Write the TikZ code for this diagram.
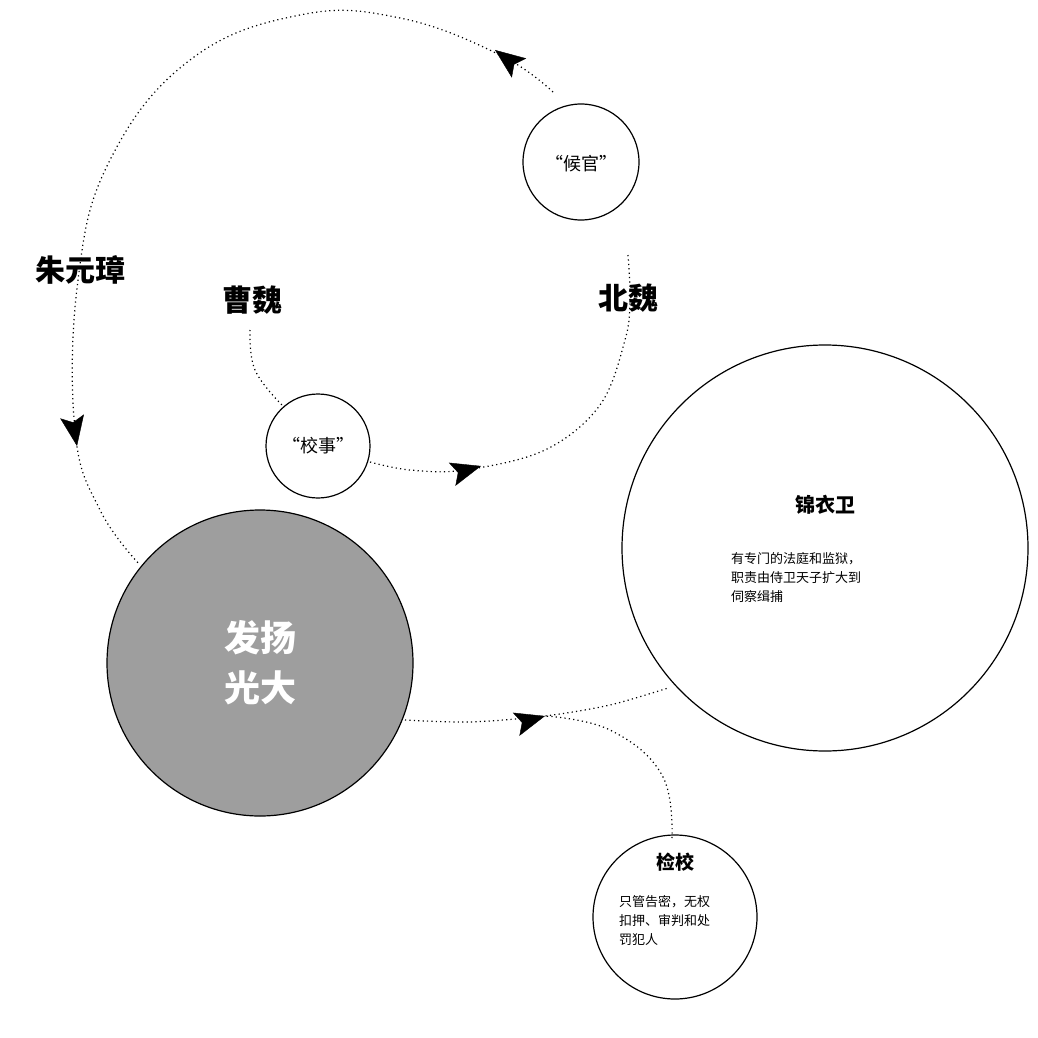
\documentclass[tikz,border=0pt]{standalone}
\usepackage{fontspec}
\newfontfamily\cjk{Noto Sans CJK SC}
\usetikzlibrary{arrows.meta}
\begin{document}
\begin{tikzpicture}[x=0.5pt,y=-0.5pt,
  circ/.style={draw,circle,line width=0.6pt,inner sep=0pt},
  conn/.style={line width=0.6pt,dash pattern=on 0.6pt off 1.6pt},
  tipa/.style={-{Stealth[length=15pt,width=12pt,inset=3pt]},line width=0.2pt},
  big/.style={font=\cjk\fontsize{15}{15}\selectfont\bfseries},
  small/.style={font=\cjk\fontsize{6.5}{9.5}\selectfont,align=left}]
\useasboundingbox (0,0) rectangle (1038,1038);
\node[circ,minimum size=58pt] (hg) at (581,162) {};
\node[font=\cjk\fontsize{9}{9}\selectfont] at (581,164) {“候官”};
\node[circ,minimum size=52pt] (xs) at (318,446) {};
\node[font=\cjk\fontsize{9}{9}\selectfont] at (318,446) {“校事”};
\node[circ,minimum size=153pt,fill=black!38] (fy) at (260,663) {};
\node[font=\cjk\fontsize{18}{25}\selectfont\bfseries,text=white,align=center] at (260,663) {发扬\\光大};
\node[circ,minimum size=203pt] (jy) at (825,548) {};
\node[font=\cjk\fontsize{10}{10}\selectfont\bfseries] at (825,505) {锦衣卫};
\node[small,anchor=north west] at (724,545) {有专门的法庭和监狱，\\职责由侍卫天子扩大到\\伺察缉捕};
\node[circ,minimum size=82pt] (jx) at (675,917) {};
\node[font=\cjk\fontsize{9.5}{9.5}\selectfont\bfseries] at (675,862) {检校};
\node[small,anchor=north west] at (612,888) {只管告密，无权\\扣押、审判和处\\罚犯人};
\node[big] (zy) at (80,270) {朱元璋};
\node[big] (cw) at (252,300) {曹魏};
\node[big] (bw) at (628,298) {北魏};
\coordinate (m) at (545,716);
\draw[conn] plot[smooth,tension=0.7] coordinates {(553,92) (500,55) (400,18) (300,15) (190,60) (110,160) (78,280) (75,430) (100,510) (140,565)};
\draw[conn] plot[smooth,tension=0.6] coordinates {(370,462) (410,470) (465,470) (545,450) (600,405) (625,340) (630,300) (628,255)};
\draw[conn] plot[smooth,tension=0.7] coordinates {(250,330) (255,370) (282,405)};
\draw[conn] plot[smooth,tension=0.5] coordinates {(405,720) (470,722) (545,716) (610,705) (668,688)};
\draw[conn] plot[smooth,tension=0.7] coordinates {(672,838) (662,775) (610,730) (545,716)};
\coordinate (a1s) at (499,53); \coordinate (a1e) at (495,50);
\coordinate (a2s) at (76,440); \coordinate (a2e) at (77,446);
\coordinate (a3s) at (474,468); \coordinate (a3e) at (481,466);
\coordinate (a4s) at (538,718); \coordinate (a4e) at (545,716);
\draw[tipa] (a1s) -- (a1e);
\draw[tipa] (a2s) -- (a2e);
\draw[tipa] (a3s) -- (a3e);
\draw[tipa] (a4s) -- (a4e);
\end{tikzpicture}
\end{document}
